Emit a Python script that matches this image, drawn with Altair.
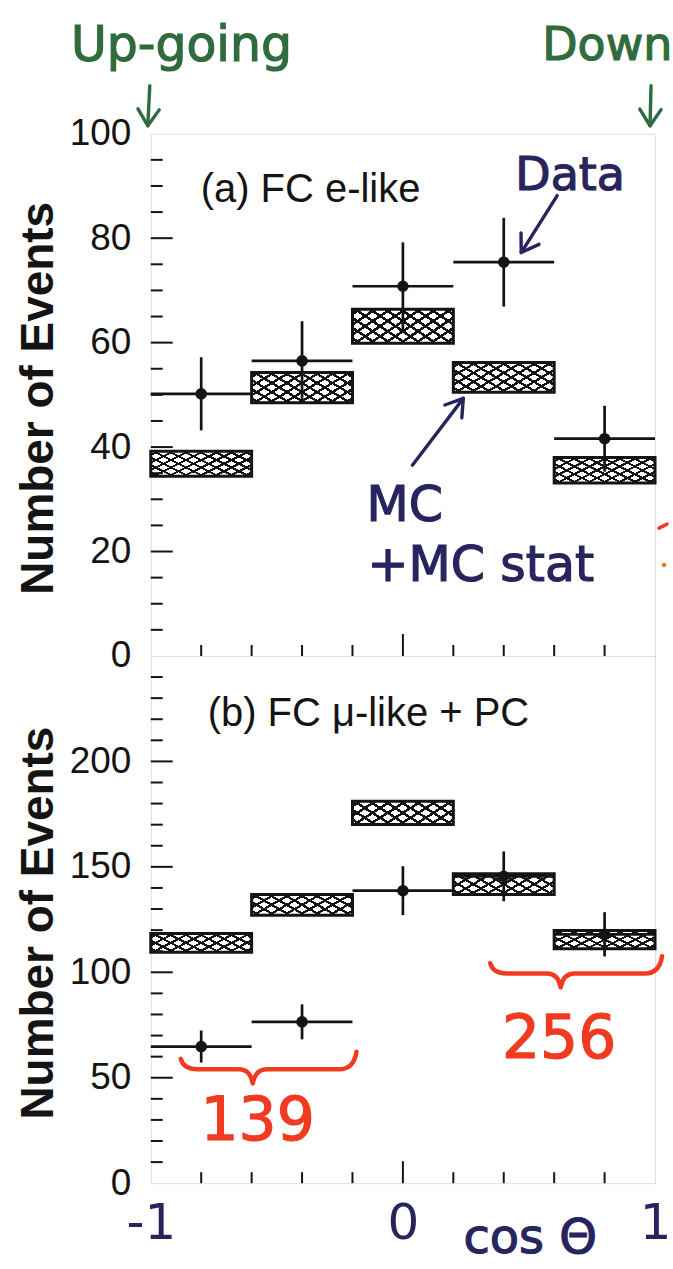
import math
import altair as alt
import pandas as pd

# zenith-angle bins in cos(theta)
bin_lo = [-1.0, -0.6, -0.2, 0.2, 0.6]
bin_hi = [-0.6, -0.2, 0.2, 0.6, 1.0]
bin_mid = [-0.8, -0.4, 0.0, 0.4, 0.8]

# (a) FC e-like: observed counts, their errors, MC band (low / high)
e_obs = [50.2, 56.5, 70.8, 75.4, 41.6]
e_err = [7.0, 7.6, 8.4, 8.5, 6.3]
e_mc_lo = [34.4, 48.5, 59.9, 50.5, 33.1]
e_mc_hi = [39.2, 54.3, 66.4, 56.2, 38.0]

# (b) FC mu-like + PC
mu_obs = [64.8, 76.5, 138.7, 145.5, 118.0]
mu_err = [7.6, 8.3, 11.6, 11.8, 10.5]
mu_mc_lo = [109.5, 127.1, 170.1, 136.9, 111.2]
mu_mc_hi = [118.4, 136.9, 181.1, 146.7, 119.8]

# axis labels and inward tick positions
e_labels = [0, 20, 40, 60, 80, 100]
e_major = [20, 40, 60, 80]
e_minor = [5, 10, 15, 25, 30, 35, 45, 50, 55, 65, 70, 75, 85, 90, 95]
mu_labels = [0, 50, 100, 150, 200]
mu_major = [50, 100, 150, 200]
mu_minor = [10, 20, 30, 40, 60, 70, 80, 90, 110, 120, 130, 140,
            160, 170, 180, 190, 210, 220, 230, 240]
x_labels = [-1, 0, 1]
x_major = [0]
x_minor = [-0.8, -0.6, -0.4, -0.2, 0.2, 0.4, 0.6, 0.8]

PW = 505
H_TOP = 523
H_BOT = 528
INK = "#141414"
NAVY = "#27245e"
GREEN = "#2f6b3c"
RED = "#f03b20"
ORANGE = "#f07a1e"
PRINT = "Liberation Sans"
HAND = "DejaVu Sans"
CLEAR = "rgba(255,255,255,0)"

V_HEAD = "M -0.55 0.85 L 0 0 L 0.55 0.85"
BRACE = ("M -1 -0.12 Q -0.97 0 -0.8 0 L -0.34 0 Q -0.21 0 -0.18 0.16 "
         "Q -0.15 0 -0.02 0 L 0.8 0 Q 0.97 0 1 -0.2")

one = pd.DataFrame({"k": [0]})


def hatch(n, r, flip):
    """Striped gradient; two of them crossed give the MC cross-hatching."""
    half = 0.15 / n
    stops = [alt.GradientStop(offset=0, color=CLEAR)]
    for k in range(n):
        c = (k + 0.5) / n
        stops += [
            alt.GradientStop(offset=c - half, color=CLEAR),
            alt.GradientStop(offset=c - half, color=INK),
            alt.GradientStop(offset=c + half, color=INK),
            alt.GradientStop(offset=c + half, color=CLEAR),
        ]
    stops.append(alt.GradientStop(offset=1, color=CLEAR))
    a = (1 + r) / (1 + r * r)
    b = r * a
    if flip:
        return alt.LinearGradient(gradient="linear", stops=stops, x1=0, y1=1, x2=a, y2=1 - b)
    return alt.LinearGradient(gradient="linear", stops=stops, x1=0, y1=0, x2=a, y2=b)


def text(s, x, y, size, color, font=HAND, align="left", weight="normal", pen=0):
    props = dict(text=s, font=font, fontSize=size, color=color, align=align,
                 baseline="middle", fontWeight=weight)
    if pen:
        props.update(stroke=color, strokeWidth=pen)
    return alt.Chart(one).mark_text(**props).encode(x=alt.value(x), y=alt.value(y))


def arrow(x0, y0, x1, y1, color, width=3.4, head=1500):
    seg = alt.Chart(one).mark_rule(color=color, strokeWidth=width, strokeCap="round").encode(
        x=alt.value(x0), y=alt.value(y0), x2=alt.value(x1), y2=alt.value(y1))
    ang = math.degrees(math.atan2(x1 - x0, -(y1 - y0))) % 360
    tip = alt.Chart(one).mark_point(
        shape=V_HEAD, filled=False, color=color, strokeWidth=width, size=head,
        angle=ang, opacity=1, strokeCap="round", strokeJoin="round",
    ).encode(x=alt.value(x1), y=alt.value(y1))
    return seg + tip


def brace(cx, cy, half_width):
    return alt.Chart(one).mark_point(
        shape=BRACE, filled=False, color=RED, strokeWidth=4.5, opacity=1,
        size=(2 * half_width) ** 2, strokeCap="round", strokeJoin="round",
    ).encode(x=alt.value(cx), y=alt.value(cy))


def panel(obs, err, mc_lo, mc_hi, ymax, height, labels, major, minor,
          n_hatch, r_hatch, bottom):
    df = pd.DataFrame({
        "lo": bin_lo, "hi": bin_hi, "mid": bin_mid, "obs": obs,
        "obs_lo": [o - e for o, e in zip(obs, err)],
        "obs_hi": [o + e for o, e in zip(obs, err)],
        "mc_lo": mc_lo, "mc_hi": mc_hi,
    })
    xs = alt.Scale(domain=[-1, 1], nice=False, zero=False)
    ys = alt.Scale(domain=[0, ymax], nice=False, zero=False)
    if bottom:
        xaxis = alt.Axis(values=x_labels, ticks=False, domain=False, grid=False,
                         labelFont=HAND, labelFontSize=50, labelColor=NAVY,
                         labelFlush=False, labelPadding=15, title=None,
                         labelExpr="'' + datum.value")
    else:
        xaxis = None
    yaxis = alt.Axis(values=labels, ticks=False, domain=False, grid=False,
                     labelFont=PRINT, labelFontSize=37, labelColor=INK,
                     labelPadding=20, title="Number of Events", titleFont=PRINT,
                     titleFontSize=46, titleFontWeight="bold", titleColor=INK,
                     titleX=-112, titleY=height / 2 + 3, titleBaseline="middle",
                     titleAngle=270)

    def X(f):
        return alt.X(f"{f}:Q", scale=xs, axis=xaxis)

    def Y(f):
        return alt.Y(f"{f}:Q", scale=ys, axis=yaxis)

    base = alt.Chart(df)
    box = dict(x=X("lo"), x2="hi", y=Y("mc_lo"), y2="mc_hi")
    layers = [
        base.mark_rect(fill="white").encode(**box),
        base.mark_rect(fill=hatch(n_hatch, r_hatch, False)).encode(**box),
        base.mark_rect(fill=hatch(n_hatch, r_hatch, True)).encode(**box),
        base.mark_rect(fillOpacity=0, stroke=INK, strokeWidth=3).encode(**box),
        base.mark_rule(color=INK, strokeWidth=2.7).encode(x=X("lo"), x2="hi", y=Y("obs")),
        base.mark_rule(color=INK, strokeWidth=2.7).encode(x=X("mid"), y=Y("obs_lo"), y2="obs_hi"),
        base.mark_circle(size=135, color=INK, opacity=1).encode(x=X("mid"), y=Y("obs")),
    ]
    ytick = lambda vals, ln: alt.Chart(pd.DataFrame({"v": vals})).mark_rule(
        color=INK, strokeWidth=2).encode(y=Y("v"), x=alt.value(0), x2=alt.value(ln))
    xtick = lambda vals, ln: alt.Chart(pd.DataFrame({"v": vals})).mark_rule(
        color=INK, strokeWidth=2).encode(x=X("v"), y=alt.value(height), y2=alt.value(height - ln))
    layers += [ytick(minor, 12), ytick(major, 22), xtick(x_minor, 11), xtick(x_major, 22)]
    return layers


top_layers = panel(e_obs, e_err, e_mc_lo, e_mc_hi, 100, H_TOP, e_labels,
                   e_major, e_minor, 10, 0.5, False)
top_layers += [
    text("(a) FC e-like", 50, 56, 40, INK, font=PRINT),
    text("Up-going", -80, -88, 49, GREEN, pen=1.2),
    arrow(-1, -48, -3, -8, GREEN),
    text("Down", 392, -88, 46, GREEN, pen=1.2),
    arrow(501, -48, 500, -8, GREEN),
    text("Data", 420, 42, 46, NAVY, align="center", pen=1.2),
    arrow(407, 62, 371, 119, NAVY),
    text("MC", 216, 373, 49, NAVY, pen=1.2),
    text("+MC stat", 217, 433, 49, NAVY, pen=1.2),
    arrow(262, 332, 313, 265, NAVY),
    # pen marks running off the right edge
    alt.Chart(one).mark_rule(color=RED, strokeWidth=3.5, strokeCap="round").encode(
        x=alt.value(509), y=alt.value(395), x2=alt.value(517), y2=alt.value(391)),
    alt.Chart(one).mark_circle(color=ORANGE, size=20, opacity=1).encode(
        x=alt.value(514), y=alt.value(432)),
]
top = alt.layer(*top_layers).properties(width=PW, height=H_TOP)

bot_layers = panel(mu_obs, mu_err, mu_mc_lo, mu_mc_hi, 250, H_BOT, mu_labels,
                   mu_major, mu_minor, 9, 0.36, True)
bot_layers += [
    text("(b) FC \u03bc-like + PC", 57, 58, 40, INK, font=PRINT),
    brace(118, 414, 88),
    text("139", 107, 467, 60, RED, align="center", pen=1.2),
    brace(426, 318, 86),
    text("256", 409, 385, 60, RED, align="center", pen=1.2),
    text("cos \u0398", 380, 584, 48, NAVY, align="center", pen=1.2),
]
bot = alt.layer(*bot_layers).properties(width=PW, height=H_BOT)

chart = alt.vconcat(top, bot, spacing=0, bounds="flush").properties(
    padding={"left": 15, "top": 20, "right": 0, "bottom": 0}
).configure_view(stroke=INK, strokeWidth=2.6).configure(background="white")

chart.save("out.html", embed_options={"renderer": "svg", "actions": False})
